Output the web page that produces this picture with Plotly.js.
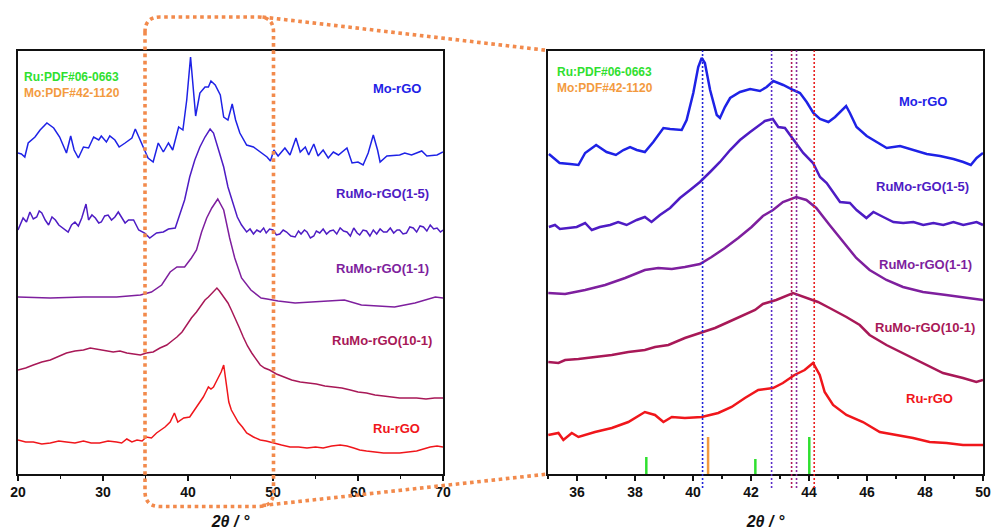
<!DOCTYPE html>
<html>
<head>
<meta charset="utf-8">
<script src="https://cdn.plot.ly/plotly-3.0.1.min.js"></script>
<style>html,body{margin:0;padding:0;background:#fff;}#chart{width:994px;height:530px;}</style>
</head>
<body>
<div id="chart"></div>
<script>
// ---------- Series names and colours ----------
const seriesNames = ["Mo-rGO", "RuMo-rGO(1-5)", "RuMo-rGO(1-1)", "RuMo-rGO(10-1)", "Ru-rGO"];
const seriesColors = ["#1E22E6", "#4E1CC4", "#7E1F9E", "#A81857", "#F0161B"];

// ---------- Left panel (2θ 20–70°, offset intensity, a.u.) ----------
const moX_L = [20,20.4,20.8,21.2,22,22.6,23.4,24.2,24.9,25.7,26.2,26.6,27.1,27.7,28.3,28.9,29.5,29.8,30.4,30.8,31.4,31.9,32.6,33.4,33.8,34.2,34.7,35.3,35.9,36.5,37.1,37.7,38.2,38.9,39.4,39.85,40.3,40.5,40.9,41.4,42.0,42.4,42.7,43.2,43.8,44.2,44.7,45.2,45.6,46.1,46.9,47.7,48.5,49.3,49.7,50.1,50.6,51.4,52.0,52.7,53.2,53.8,54.2,54.8,55.3,55.9,56.5,57.1,57.7,58.7,59.3,60.0,60.6,61.2,61.8,62.3,62.6,63.4,64.9,65.5,66.3,67.5,68.1,69.3,70];
const moY_L = [321,320,317,331,337,344,351,346,337,321,338,324,316,327,326,337,334,338,332,338,334,327,331,336,345,337,327,316,312,331,322,331,324,347,344,374,417,394,358,381,387,387,393,389,379,357,354,370,354,341,329,327,322,317,313,324,318,326,319,336,322,327,319,330,318,324,316,322,319,326,311,312,309,321,339,324,312,318,319,321,319,323,318,319,322];

const r15X_L = [20,20.3,20.6,21.0,21.4,21.8,22.2,22.5,22.8,23.2,23.6,24.0,24.4,24.8,25.1,25.5,25.9,26.3,26.7,27.1,27.5,28.0,28.3,28.7,29.1,29.5,29.8,30.2,30.6,31.0,31.4,31.8,32.2,32.6,33.0,33.6,34.2,34.9,35.5,36.3,37.1,37.7,38.5,39.1,39.6,40.2,40.8,41.4,42.0,42.6,43.0,43.6,44.2,44.7,45.3,45.8,46.3,46.9,47.3,47.7,48.1,48.5,48.9,49.2,49.6,50.0,50.4,50.8,51.2,51.6,52.1,52.6,53.0,53.3,53.7,54.0,54.4,54.8,55.1,55.5,55.9,56.3,56.7,57.1,57.5,57.9,58.3,58.7,59.1,59.5,59.9,60.2,60.6,61.0,61.4,61.8,62.2,62.6,63.0,63.4,63.8,64.2,64.6,64.9,65.3,65.7,66.1,66.5,66.9,67.3,67.7,68.1,68.5,68.9,69.3,69.7,70];
const r15Y_L = [244,251,256,252,262,255,257,263,261,254,249,257,254,249,247,244,242,249,252,248,256,270,254,259,256,251,252,258,259,254,257,262,257,251,254,254,244,241,236,241,242,245,246,261,274,297,314,327,337,345,341,324,307,287,271,257,249,242,245,240,244,242,246,241,245,244,239,240,244,242,238,237,243,240,244,242,236,238,243,241,245,240,243,244,240,246,243,242,238,246,241,239,244,243,238,244,240,245,242,242,246,241,244,244,240,241,247,246,242,248,247,243,249,245,246,242,244];

const r11X_L = [20,23.8,27.7,31.6,34.4,35.7,36.9,37.9,38.7,39.6,40.4,41.0,41.6,42.2,42.8,43.5,44.2,44.9,45.5,46.3,47.4,48.6,49.3,50.6,52.6,54.5,56.5,58.4,60.4,62.2,64.3,66.7,68.2,69.1,70];
const r11Y_L = [177,176,177,177,179,182,189,202,207,207,216,224,242,256,266,275,264,236,216,196,184,176,175,173,171,172,173,174,169,168,167,171,175,177,176];

const r101X_L = [20,20.9,21.8,22.8,23.8,24.8,25.7,26.7,27.7,28.5,29.3,30.2,31.2,32.0,32.8,33.6,34.4,35.1,35.9,36.7,37.5,38.1,38.7,39.3,39.8,40.4,41.0,41.5,42.0,42.4,42.8,43.1,43.4,43.7,44.0,44.4,44.7,45.1,45.5,46.0,46.5,47.0,47.5,48.0,48.5,49.0,49.6,50.4,51.2,52.2,53.2,54.2,55.1,56.1,57.1,58.1,59.1,60.0,61.0,62.0,63.0,64.0,64.9,65.9,66.9,68.0,69.0,70];
const r101Y_L = [104,106,109,112,114,118,121,123,124,126,125,124,122,123,121,120,119,121,122,126,129,133,137,142,149,156,162,168,174,177,181,183,186,183,179,175,171,164,157,147,137,128,121,115,109,106,104,100,97,94,92,91,90,88,87,86,84,82,81,79,78,77,76,76,76,75,76,76];

const ruX_L = [20,20.9,21.8,22.8,23.8,24.8,25.7,26.7,27.7,28.6,29.6,30.6,31.6,32.2,32.8,33.4,34.0,34.6,35.1,35.7,36.3,36.8,37.3,37.9,38.4,38.8,39.5,40.2,40.6,41.0,41.4,41.8,42.1,42.4,42.7,43.0,43.3,43.6,43.9,44.2,44.4,44.6,44.8,45.1,45.5,45.9,46.4,46.9,47.7,48.5,49.2,50.0,51.0,52.0,53.0,54.0,55.0,55.9,56.9,57.9,58.7,59.5,60.2,61.0,62.0,63.0,64.0,64.9,65.9,66.9,67.7,68.5,69.3,70];
const ruY_L = [34,32,32,30,31,33,32,31,33,31,31,33,32,31,35,32,34,33,37,36,41,44,47,52,61,52,56,57,62,67,71,77,82,87,85,87,92,97,102,109,95,81,72,64,58,52,47,41,37,34,33,31,29,27,27,26,27,26,28,29,28,26,24,23,22,21,21,21,22,23,25,27,28,27];

// ---------- Right panel (2θ 35–50°, enlarged view) ----------
const moX_R = [35.03,35.4,35.76,36.05,36.28,36.66,37.02,37.34,37.6,37.83,38.06,38.34,38.63,38.98,39.21,39.61,39.78,40.01,40.18,40.30,40.41,40.59,40.82,40.93,41.1,41.28,41.62,41.97,42.31,42.54,42.77,43.11,43.46,43.69,43.92,44.15,44.38,44.67,44.9,45.13,45.28,45.41,45.64,45.99,46.33,46.68,47.14,47.6,48.06,48.52,48.98,49.32,49.58,49.78,50];
const moY_R = [320,311,310,309,321,329,322,319,324,327,324,322,332,346,345,344,354,381,407,416,411,384,359,356,367,376,382,385,383,387,393,389,384,381,372,361,355,352,357,364,368,361,347,338,332,326,328,324,320,318,315,312,309,316,321];

const r15X_R = [35.03,35.24,35.41,35.64,35.99,36.28,36.51,36.79,37.14,37.42,37.71,38.06,38.34,38.57,38.86,39.21,39.55,39.9,40.24,40.59,40.93,41.28,41.62,41.97,42.31,42.48,42.75,42.94,43.17,43.46,43.8,44.14,44.38,44.61,44.84,45.07,45.41,45.64,45.98,46.22,46.56,46.91,47.25,47.6,47.94,48.29,48.63,48.98,49.32,49.78,50];
const r15Y_R = [247,249,245,246,247,251,244,247,249,252,249,254,257,252,259,266,276,284,292,302,312,324,334,342,349,353,355,347,346,334,321,311,297,291,281,272,271,264,256,262,257,252,251,252,249,251,249,252,249,252,249];

const r11X_R = [35.01,35.59,36.28,36.97,37.66,38.34,38.8,39.27,39.72,40.24,40.64,41.1,41.56,42.02,42.41,42.76,43.1,43.56,43.91,44.25,44.71,45.17,45.63,46.09,46.67,47.24,47.93,48.73,49.54,50];
const r11Y_R = [181,180,184,189,196,204,206,205,207,210,217,226,236,247,258,264,272,277,274,266,249,232,216,204,194,187,182,179,176,174];

const r101X_R = [35.01,35.36,35.59,36.05,36.62,37.2,37.77,38.34,38.69,39.15,39.72,40.3,40.76,41.22,41.68,42.14,42.41,42.87,43.45,43.91,44.31,44.71,45.29,45.75,46.09,46.67,47.24,47.93,48.62,49.31,49.77,50];
const r101Y_R = [112,111,114,115,117,119,122,124,127,129,136,142,146,152,158,164,170,174,181,176,172,166,157,149,139,129,121,111,101,96,92,94];

const ruX_R = [35.01,35.36,35.53,35.82,36.05,36.62,37.2,37.77,38.34,38.69,38.98,39.27,39.72,40.3,40.87,41.33,41.79,42.25,42.76,43.1,43.5,43.85,44.14,44.37,44.54,44.83,45.29,45.86,46.44,47.01,47.59,48.16,48.74,49.31,50];
const ruY_R = [39,41,34,41,37,42,46,52,62,59,52,57,56,57,61,67,76,84,86,91,99,104,111,99,82,69,59,52,42,39,36,32,31,29,29];

// ---------- Standard patterns (PDF cards) ----------
const ruPdfPos = [38.39, 42.15, 44.01];
const ruPdfInt = [17, 15, 37];
const moPdfPos = [40.52];
const moPdfInt = [37];
const pdfLabels = ["Ru:PDF#06-0663", "Mo:PDF#42-1120"];
const pdfColors = ["#2FE02F", "#F39A3E"];

// Peak marker positions in the enlarged view (series order)
const peakPos = [40.33, 42.71, 43.57, 43.40, 44.18];

// ---------- Build traces ----------
const leftX = [moX_L, r15X_L, r11X_L, r101X_L, ruX_L];
const leftY = [moY_L, r15Y_L, r11Y_L, r101Y_L, ruY_L];
const rightX = [moX_R, r15X_R, r11X_R, r101X_R, ruX_R];
const rightY = [moY_R, r15Y_R, r11Y_R, r101Y_R, ruY_R];

const traces = [];
for (let i = 0; i < 5; i++) {
  traces.push({x: leftX[i], y: leftY[i], xaxis: 'x', yaxis: 'y', type: 'scatter', mode: 'lines',
    name: seriesNames[i], line: {color: seriesColors[i], width: 1.5}, showlegend: false, hoverinfo: 'skip'});
}
for (let i = 0; i < 5; i++) {
  traces.push({x: rightX[i], y: rightY[i], xaxis: 'x2', yaxis: 'y2', type: 'scatter', mode: 'lines',
    name: seriesNames[i], line: {color: seriesColors[i], width: 2.5}, showlegend: false, hoverinfo: 'skip'});
}
function sticks(pos, inten) {
  const xs = [], ys = [];
  pos.forEach((p, k) => { xs.push(p, p, null); ys.push(0, inten[k], null); });
  return {xs, ys};
}
const ruS = sticks(ruPdfPos, ruPdfInt), moS = sticks(moPdfPos, moPdfInt);
traces.push({x: ruS.xs, y: ruS.ys, xaxis: 'x2', yaxis: 'y2', mode: 'lines', line: {color: pdfColors[0], width: 2.5}, showlegend: false, hoverinfo: 'skip', name: pdfLabels[0]});
traces.push({x: moS.xs, y: moS.ys, xaxis: 'x2', yaxis: 'y2', mode: 'lines', line: {color: pdfColors[1], width: 2.5}, showlegend: false, hoverinfo: 'skip', name: pdfLabels[1]});

// ---------- Layout helpers ----------
const W = 994, H = 530;
const px = v => v / W;
const py = v => 1 - v / H;
const FONT = 'Arial, "Liberation Sans", sans-serif';
const orange = '#F28A4C';

const axisCommon = {
  showline: true, linecolor: '#111', linewidth: 1.6, mirror: true,
  ticks: 'outside', ticklen: 5, tickwidth: 1.3, tickcolor: '#111',
  tickfont: {family: FONT, size: 14, color: '#111', weight: 'bold'},
  showgrid: false, zeroline: false, fixedrange: true
};
const yCommon = {showline: true, linecolor: '#111', linewidth: 1.6, mirror: true, showticklabels: false,
  ticks: '', showgrid: false, zeroline: false, range: [0, 423.5], domain: [py(474), py(50.5)]};

const titleText = '<b><i>2θ / °</i></b>';

const layout = {
  width: W, height: H, margin: {l: 0, r: 0, t: 0, b: 0},
  paper_bgcolor: '#fff', plot_bgcolor: 'rgba(0,0,0,0)',
  font: {family: FONT},
  showlegend: false,
  xaxis: Object.assign({}, axisCommon, {domain: [px(18), px(443)], range: [20, 70], dtick: 10, tick0: 0,
    minor: {dtick: 5, ticks: 'outside', ticklen: 3, tickcolor: '#111', showgrid: false},
    title: {text: titleText, font: {family: FONT, size: 16, color: '#111'}}, anchor: 'y'}),
  yaxis: Object.assign({}, yCommon, {anchor: 'x'}),
  xaxis2: Object.assign({}, axisCommon, {domain: [px(548), px(983)], range: [35, 50], dtick: 2, tick0: 0,
    minor: {dtick: 1, ticks: 'outside', ticklen: 3, tickcolor: '#111', showgrid: false},
    title: {text: titleText, font: {family: FONT, size: 16, color: '#111'}}, anchor: 'y2'}),
  yaxis2: Object.assign({}, yCommon, {anchor: 'x2'}),
  shapes: [],
  annotations: []
};

// Orange rounded dotted box around 35–50° of the left panel, with connectors to the right panel
const bx0 = 145, bx1 = 273.5, by0 = 17, by1 = 506.5, rr = 15;
const P = (x, y) => px(x) + ',' + py(y);
layout.shapes.push({type: 'path', xref: 'paper', yref: 'paper', layer: 'above',
  path: 'M' + P(bx0, by0 + rr) + ' L' + P(bx0, by1 - rr) + ' Q' + P(bx0, by1) + ' ' + P(bx0 + rr, by1) +
        ' L' + P(bx1 - rr, by1) + ' Q' + P(bx1, by1) + ' ' + P(bx1, by1 - rr) +
        ' L' + P(bx1, by0 + rr) + ' Q' + P(bx1, by0) + ' ' + P(bx1 - rr, by0) +
        ' L' + P(bx0 + rr, by0) + ' Q' + P(bx0, by0) + ' ' + P(bx0, by0 + rr) + ' Z',
  line: {color: orange, width: 3.6, dash: 'dot'}});
layout.shapes.push({type: 'line', xref: 'paper', yref: 'paper', x0: px(bx1 - rr + 4), y0: py(by0), x1: px(548), y1: py(50.5),
  line: {color: orange, width: 3.6, dash: 'dot'}});
layout.shapes.push({type: 'line', xref: 'paper', yref: 'paper', x0: px(bx1 - rr + 4), y0: py(by1 - 1), x1: px(548), y1: py(474),
  line: {color: orange, width: 3.6, dash: 'dot'}});

// Dotted peak markers in right panel
const markerColors = ["#1F24D8", "#5A2DC8", "#8A2A9E", "#B01A5A", "#E82020"];
peakPos.forEach((p, i) => {
  layout.shapes.push({type: 'line', xref: 'x2', yref: 'paper', x0: p, x1: p, y0: py(488), y1: py(50.5),
    line: {color: markerColors[i], width: 1.6, dash: '2px,2px'}});
});

// Series labels
const leftLabelPos = [[64.6, 386], [62.9, 281], [62.9, 206], [62.8, 134], [64.5, 46]];
const rightLabelPos = [[47.93, 373], [47.93, 288], [48.0, 210], [48.0, 147], [48.17, 76]];
for (let i = 0; i < 5; i++) {
  layout.annotations.push({xref: 'x', yref: 'y', x: leftLabelPos[i][0], y: leftLabelPos[i][1], text: '<b>' + seriesNames[i] + '</b>',
    showarrow: false, xanchor: 'center', yanchor: 'middle', font: {family: FONT, size: 13, color: seriesColors[i]}});
  layout.annotations.push({xref: 'x2', yref: 'y2', x: rightLabelPos[i][0], y: rightLabelPos[i][1], text: '<b>' + seriesNames[i] + '</b>',
    showarrow: false, xanchor: 'center', yanchor: 'middle', font: {family: FONT, size: 13, color: seriesColors[i]}});
}
// PDF labels
[[20.5, 397, 0, 'x', 'y'], [20.5, 381, 1, 'x', 'y'], [35.24, 402, 0, 'x2', 'y2'], [35.24, 386, 1, 'x2', 'y2']].forEach(a => {
  layout.annotations.push({xref: a[3], yref: a[4], x: a[0], y: a[1], text: '<b>' + pdfLabels[a[2]] + '</b>',
    showarrow: false, xanchor: 'left', yanchor: 'middle', font: {family: FONT, size: 12, color: pdfColors[a[2]]}});
});

Plotly.newPlot('chart', traces, layout, {staticPlot: true, displayModeBar: false});
</script>
</body>
</html>
